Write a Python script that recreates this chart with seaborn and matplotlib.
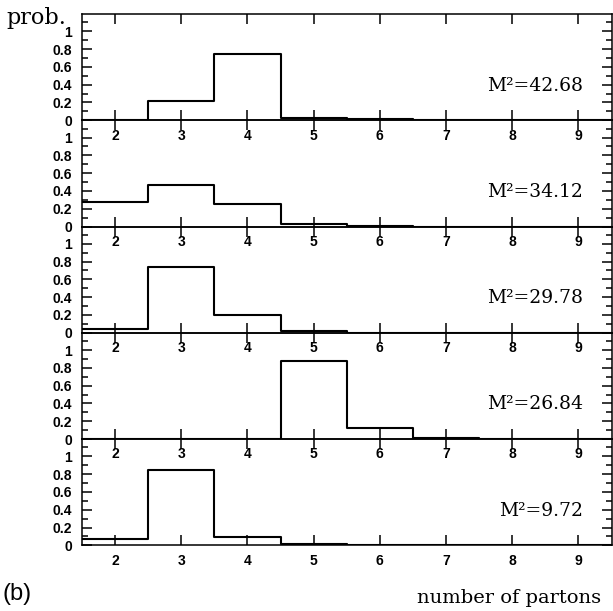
import numpy as np
import pandas as pd
import matplotlib
matplotlib.use("Agg")
import matplotlib.pyplot as plt
import seaborn as sns
from matplotlib.ticker import MultipleLocator, FixedLocator

# number of partons (bin centres) and the probability in each bin
partons = [2, 3, 4, 5, 6, 7, 8, 9]
m2_values = ["42.68", "34.12", "29.78", "26.84", "9.72"]
prob_4268 = [0.0, 0.22, 0.74, 0.025, 0.015, 0.0, 0.0, 0.0]
prob_3412 = [0.27, 0.47, 0.25, 0.027, 0.01, 0.0, 0.0, 0.0]
prob_2978 = [0.045, 0.74, 0.20, 0.016, 0.0, 0.0, 0.0, 0.0]
prob_2684 = [0.0, 0.0, 0.0, 0.875, 0.12, 0.012, 0.0, 0.0]
prob_972 = [0.068, 0.85, 0.098, 0.01, 0.0, 0.0, 0.0, 0.0]
ytick_labels = ["0", "0.2", "0.4", "0.6", "0.8", "1"]

probs = [prob_4268, prob_3412, prob_2978, prob_2684, prob_972]

sns.set_style("ticks")
plt.rcParams["font.family"] = ["DejaVu Sans"]
plt.rcParams.update({"text.color": "black", "xtick.color": "black",
                     "ytick.color": "black", "axes.labelcolor": "black",
                     "xtick.labelcolor": "black", "ytick.labelcolor": "black"})

W, H = 613, 611
fig = plt.figure(figsize=(W / 100, H / 100), dpi=100)

left, right = 82 / W, 611.5 / W
top, bottom = 1 - 14 / H, 1 - 545.3 / H
ph = (top - bottom) / 5

edges = [b - 0.5 for b in partons] + [partons[-1] + 0.5]
tick_font = dict(family="Liberation Sans", weight="bold", size=10)

for i, (p, m2) in enumerate(zip(probs, m2_values)):
    ax = fig.add_axes([left, top - (i + 1) * ph, right - left, ph])
    df = pd.DataFrame({"n": partons, "p": p})
    sns.histplot(data=df, x="n", weights="p", bins=edges, element="step",
                 fill=False, color="black", linewidth=1.5, ax=ax)
    ax.set_xlim(1.5, 9.5)
    ax.set_ylim(0, 1.194)
    ax.set_xlabel("")
    ax.set_ylabel("")
    for s in ax.spines.values():
        s.set_visible(True)
        s.set_linewidth(1.1)
        s.set_color("black")
    ax.xaxis.set_major_locator(FixedLocator(partons))
    ax.set_xticklabels([str(v) for v in partons], fontdict=tick_font)
    ax.yaxis.set_major_locator(FixedLocator([0, 0.2, 0.4, 0.6, 0.8, 1.0]))
    ax.set_yticklabels(ytick_labels, fontdict=tick_font)
    ax.yaxis.set_minor_locator(MultipleLocator(0.1))
    ax.tick_params(axis="x", which="major", direction="in", top=True, bottom=True,
                   length=7.2, width=1.1, pad=6, colors="black")
    ax.tick_params(axis="y", which="major", direction="in", left=True, right=True,
                   length=7.2, width=1.1, pad=7, colors="black")
    ax.tick_params(axis="y", which="minor", direction="in", left=True, right=True,
                   length=4.3, width=1.1, colors="black")
    ax.text(9.07, 0.39, "M²=" + m2, ha="right", va="center", color="black",
            family="DejaVu Serif", fontsize=13.5)
    ax.patch.set_alpha(0)

fig.text(6 / W, 1 - 24 / H, "prob.", ha="left", va="baseline", color="black",
         family="DejaVu Serif", fontsize=16)
fig.text(601 / W, 1 - 598 / H, "number of partons", ha="right", va="center",
         color="black", family="DejaVu Serif", fontsize=14)
fig.text(2 / W, 1 - 594 / H, "(b)", ha="left", va="center", color="black",
         family="Liberation Sans", fontsize=17)

fig.savefig("out.png", dpi=100)
